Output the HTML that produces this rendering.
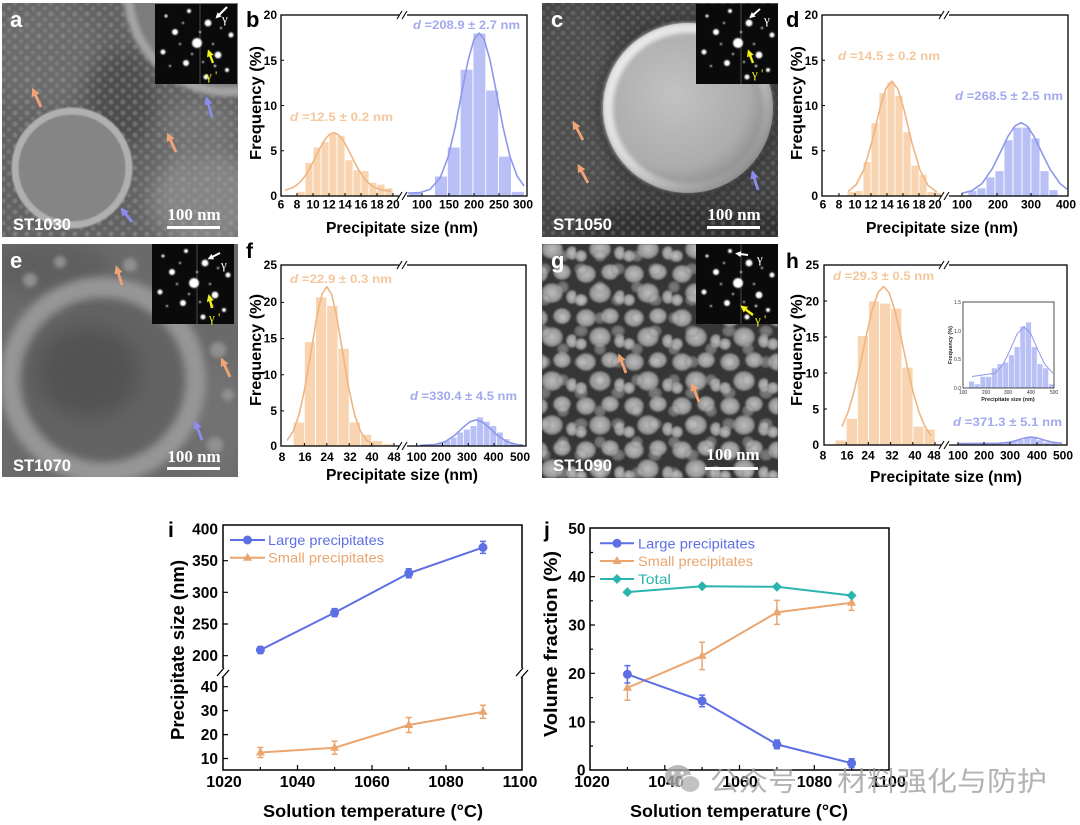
<!DOCTYPE html>
<html><head><meta charset="utf-8"><style>
html,body{margin:0;padding:0;background:#fff;}
svg{display:block;}
text{font-family:"Liberation Sans",Arial,sans-serif;}
.sf{font-family:"Liberation Serif","Times New Roman",serif;}
.cj{font-family:"Liberation Sans","Noto Sans CJK SC",sans-serif;}
</style></head><body>
<svg width="1080" height="825" viewBox="0 0 1080 825" xmlns="http://www.w3.org/2000/svg">
<defs>
<clipPath id="cA"><rect x="2" y="3" width="236" height="234"/></clipPath>
<clipPath id="cC"><rect x="542" y="3" width="236" height="234"/></clipPath>
<clipPath id="cE"><rect x="2" y="244" width="236" height="233"/></clipPath>
<clipPath id="cG"><rect x="542" y="244" width="236" height="234"/></clipPath>
<filter id="b1"><feGaussianBlur stdDeviation="0.8"/></filter>
<filter id="b2"><feGaussianBlur stdDeviation="2"/></filter>
<filter id="b4"><feGaussianBlur stdDeviation="4"/></filter>
<filter id="b10" x="-50%" y="-50%" width="200%" height="200%"><feGaussianBlur stdDeviation="10"/></filter>
<pattern id="dotA" width="12" height="11" patternUnits="userSpaceOnUse"><circle cx="3" cy="3" r="2.5" fill="#a8a8a8"/><circle cx="9" cy="8.5" r="2.1" fill="#9c9c9c"/></pattern>
<pattern id="dotC" width="10" height="10" patternUnits="userSpaceOnUse"><circle cx="3" cy="3" r="2.3" fill="#909090"/><circle cx="8" cy="8" r="1.9" fill="#858585"/></pattern>
<radialGradient id="blobG"><stop offset="0" stop-color="#d4d4d4"/><stop offset="0.75" stop-color="#acacac"/><stop offset="1" stop-color="#6e6e6e"/></radialGradient>
<pattern id="blobP1" width="48" height="44" patternUnits="userSpaceOnUse"><ellipse cx="10" cy="10" rx="10" ry="9" fill="url(#blobG)"/><ellipse cx="34" cy="8" rx="9" ry="8" fill="url(#blobG)"/><ellipse cx="24" cy="29" rx="11" ry="10" fill="url(#blobG)"/><ellipse cx="44" cy="33" rx="6" ry="7" fill="url(#blobG)"/><ellipse cx="5" cy="36" rx="6" ry="6" fill="url(#blobG)"/></pattern>
<pattern id="blobP2" width="37" height="31" patternUnits="userSpaceOnUse"><ellipse cx="8" cy="8" rx="6" ry="6" fill="url(#blobG)"/><ellipse cx="26" cy="21" rx="7" ry="6" fill="url(#blobG)"/></pattern>
<radialGradient id="discG" cx="0.42" cy="0.42" r="0.62"><stop offset="0" stop-color="#c2c2c2"/><stop offset="0.7" stop-color="#acacac"/><stop offset="1" stop-color="#848484"/></radialGradient>
<linearGradient id="rimG" x1="0" y1="0" x2="1" y2="1"><stop offset="0" stop-color="#f0f0f0"/><stop offset="0.5" stop-color="#e4e4e4" stop-opacity="0.8"/><stop offset="1" stop-color="#aaaaaa" stop-opacity="0"/></linearGradient>
<marker id="mo" markerWidth="3" markerHeight="3" refX="0.5" refY="1.5" orient="auto" markerUnits="strokeWidth"><path d="M0,0 L3,1.5 L0,3 z" fill="#f0a476"/></marker>
<marker id="mb" markerWidth="3" markerHeight="3" refX="0.5" refY="1.5" orient="auto" markerUnits="strokeWidth"><path d="M0,0 L3,1.5 L0,3 z" fill="#8a8cf0"/></marker>
<marker id="mw" markerWidth="3" markerHeight="3" refX="0.5" refY="1.5" orient="auto" markerUnits="strokeWidth"><path d="M0,0 L3,1.5 L0,3 z" fill="#ffffff"/></marker>
<marker id="my" markerWidth="3" markerHeight="3" refX="0.5" refY="1.5" orient="auto" markerUnits="strokeWidth"><path d="M0,0 L3,1.5 L0,3 z" fill="#f2f21c"/></marker>
<g id="spots">
<rect width="82" height="80" fill="#0a0a0a"/>
<line x1="45" y1="0" x2="45" y2="80" stroke="#666" stroke-width="0.7"/>
<g fill="#fff" filter="url(#b1)">
<circle cx="42" cy="39" r="5"/><circle cx="53" cy="19" r="3.4"/><circle cx="20" cy="28" r="3"/><circle cx="63" cy="51" r="3.4"/><circle cx="31" cy="59" r="3"/><circle cx="8" cy="48" r="2.5"/><circle cx="76" cy="31" r="2.5"/><circle cx="34" cy="7" r="2"/><circle cx="51" cy="73" r="2.5"/><circle cx="72" cy="66" r="2"/><circle cx="11" cy="12" r="1.5"/>
<circle cx="45" cy="28" r="1"/><circle cx="37" cy="50" r="1"/><circle cx="58" cy="40" r="1"/><circle cx="25" cy="40" r="1"/><circle cx="66" cy="24" r="1"/><circle cx="15" cy="62" r="1"/><circle cx="60" cy="62" r="1.2"/><circle cx="28" cy="19" r="1"/><circle cx="48" cy="58" r="1"/>
</g>
</g>
</defs>
<rect width="1080" height="825" fill="#fff"/>

<!-- ================= Micrograph a ================= -->
<g clip-path="url(#cA)">
<rect x="2" y="3" width="236" height="234" fill="#626262"/>
<g filter="url(#b10)">
<ellipse cx="45" cy="55" rx="55" ry="55" fill="#6c6c6c"/>
<ellipse cx="120" cy="100" rx="35" ry="50" fill="#4e4e4e"/>
<ellipse cx="205" cy="200" rx="55" ry="50" fill="#858585"/>
<ellipse cx="200" cy="130" rx="40" ry="30" fill="#727272"/>
</g>
<rect x="2" y="3" width="236" height="234" fill="url(#dotA)" opacity="0.4" filter="url(#b1)"/>
<circle cx="228" cy="-8" r="100" fill="#7c7c7c" stroke="#a4a4a4" stroke-width="9" filter="url(#b2)"/>
<circle cx="72" cy="168" r="57" fill="#858585" stroke="#b0b0b0" stroke-width="7" filter="url(#b1)"/>
</g>
<use href="#spots" x="155" y="4"/>
<line x1="227" y1="7" x2="219" y2="15" stroke="#fff" stroke-width="2" marker-end="url(#mw)"/>
<text x="222" y="23" class="sf" font-size="13" fill="#fff">γ</text>
<line x1="213" y1="63" x2="210" y2="55" stroke="#f2f21c" stroke-width="2.4" marker-end="url(#my)"/>
<text x="206" y="80" class="sf" font-size="13" fill="#f2f21c">γ '</text>
<line x1="41" y1="107" x2="35" y2="94" stroke="#f0a476" stroke-width="2.8" marker-end="url(#mo)"/>
<line x1="176" y1="152" x2="170" y2="139" stroke="#f0a476" stroke-width="2.8" marker-end="url(#mo)"/>
<line x1="212" y1="117" x2="208" y2="103" stroke="#8a8cf0" stroke-width="2.8" marker-end="url(#mb)"/>
<line x1="132" y1="222" x2="125" y2="213" stroke="#8a8cf0" stroke-width="2.8" marker-end="url(#mb)"/>
<text x="10" y="27" font-size="22" font-weight="bold" fill="#fff">a</text>
<text x="13" y="230" font-size="16.5" font-weight="bold" fill="#fff" textLength="58" lengthAdjust="spacingAndGlyphs">ST1030</text>
<text x="194" y="220" class="sf" font-size="17" font-weight="bold" fill="#fff" text-anchor="middle">100 nm</text>
<rect x="167" y="226" width="53" height="3" fill="#fff"/>

<!-- ================= Micrograph c ================= -->
<g clip-path="url(#cC)">
<rect x="542" y="3" width="236" height="234" fill="#424242"/>
<g filter="url(#b10)">
<ellipse cx="575" cy="110" rx="45" ry="110" fill="#4e4e4e"/>
<ellipse cx="690" cy="228" rx="120" ry="25" fill="#2e2e2e"/>
</g>
<rect x="542" y="3" width="236" height="234" fill="url(#dotC)" opacity="0.4" filter="url(#b1)"/>
<circle cx="688" cy="108" r="92" fill="#303030" opacity="0.6" filter="url(#b4)"/>
<circle cx="688" cy="108" r="85" fill="url(#discG)"/>
<circle cx="688" cy="108" r="80" fill="none" stroke="url(#rimG)" stroke-width="10" filter="url(#b2)"/>
</g>
<use href="#spots" x="696" y="4"/>
<line x1="760" y1="9" x2="753" y2="15" stroke="#fff" stroke-width="2" marker-end="url(#mw)"/>
<text x="764" y="24" class="sf" font-size="13" fill="#fff">γ</text>
<line x1="753" y1="63" x2="750" y2="55" stroke="#f2f21c" stroke-width="2.4" marker-end="url(#my)"/>
<text x="752" y="78" class="sf" font-size="13" fill="#f2f21c">γ '</text>
<line x1="583" y1="140" x2="576" y2="127" stroke="#f0a476" stroke-width="2.8" marker-end="url(#mo)"/>
<line x1="588" y1="183" x2="581" y2="170" stroke="#f0a476" stroke-width="2.8" marker-end="url(#mo)"/>
<line x1="758" y1="190" x2="754" y2="177" stroke="#8a8cf0" stroke-width="2.8" marker-end="url(#mb)"/>
<text x="551" y="27" font-size="22" font-weight="bold" fill="#fff">c</text>
<text x="553" y="230" font-size="16.5" font-weight="bold" fill="#fff" textLength="59" lengthAdjust="spacingAndGlyphs">ST1050</text>
<text x="734" y="220" class="sf" font-size="17" font-weight="bold" fill="#fff" text-anchor="middle">100 nm</text>
<rect x="707" y="226" width="53" height="3" fill="#fff"/>

<!-- ================= Micrograph e ================= -->
<g clip-path="url(#cE)">
<rect x="2" y="244" width="236" height="233" fill="#6a6a6a"/>
<g filter="url(#b10)">
<ellipse cx="50" cy="268" rx="60" ry="28" fill="#5e5e5e"/>
<ellipse cx="220" cy="420" rx="28" ry="60" fill="#727272"/>
</g>
<circle cx="103" cy="380" r="93" fill="#646464" stroke="#969696" stroke-width="20" filter="url(#b4)"/>
<ellipse cx="88" cy="372" rx="52" ry="46" fill="#525252" filter="url(#b10)"/>
<g fill="#909090" filter="url(#b2)">
<circle cx="130" cy="265" r="7"/><circle cx="218" cy="350" r="8"/><circle cx="215" cy="445" r="8"/><circle cx="30" cy="280" r="7"/><circle cx="60" cy="262" r="6"/><circle cx="228" cy="395" r="6"/>
</g>
</g>
<use href="#spots" x="152" y="244"/>
<line x1="220" y1="253" x2="212" y2="257" stroke="#fff" stroke-width="2" marker-end="url(#mw)"/>
<text x="221" y="269" class="sf" font-size="13" fill="#fff">γ</text>
<line x1="212" y1="308" x2="210" y2="300" stroke="#f2f21c" stroke-width="2.4" marker-end="url(#my)"/>
<text x="209" y="322" class="sf" font-size="13" fill="#f2f21c">γ '</text>
<line x1="122" y1="285" x2="118" y2="272" stroke="#f0a476" stroke-width="2.8" marker-end="url(#mo)"/>
<line x1="230" y1="377" x2="224" y2="364" stroke="#f0a476" stroke-width="2.8" marker-end="url(#mo)"/>
<line x1="202" y1="440" x2="197" y2="427" stroke="#8a8cf0" stroke-width="2.8" marker-end="url(#mb)"/>
<text x="10" y="268" font-size="22" font-weight="bold" fill="#fff">e</text>
<text x="13" y="471" font-size="16.5" font-weight="bold" fill="#fff" textLength="58" lengthAdjust="spacingAndGlyphs">ST1070</text>
<text x="194" y="462" class="sf" font-size="17" font-weight="bold" fill="#fff" text-anchor="middle">100 nm</text>
<rect x="167" y="467" width="53" height="3" fill="#fff"/>

<!-- ================= Micrograph g ================= -->
<g clip-path="url(#cG)">
<rect x="542" y="244" width="236" height="234" fill="#363636"/>
<rect x="542" y="244" width="236" height="234" fill="url(#blobP1)" opacity="0.85" filter="url(#b1)"/>
<rect x="542" y="244" width="236" height="234" fill="url(#blobP2)" opacity="0.45" filter="url(#b1)"/>
</g>
<use href="#spots" x="696" y="244"/>
<line x1="748" y1="255" x2="740" y2="254" stroke="#fff" stroke-width="2" marker-end="url(#mw)"/>
<text x="757" y="263" class="sf" font-size="13" fill="#fff">γ</text>
<line x1="753" y1="315" x2="745" y2="309" stroke="#f2f21c" stroke-width="2.4" marker-end="url(#my)"/>
<text x="755" y="324" class="sf" font-size="13" fill="#f2f21c">γ '</text>
<line x1="626" y1="373" x2="621" y2="360" stroke="#f0a476" stroke-width="2.8" marker-end="url(#mo)"/>
<line x1="699" y1="402" x2="694" y2="389" stroke="#f0a476" stroke-width="2.8" marker-end="url(#mo)"/>
<text x="551" y="268" font-size="22" font-weight="bold" fill="#fff">g</text>
<text x="553" y="471" font-size="16.5" font-weight="bold" fill="#fff" textLength="59" lengthAdjust="spacingAndGlyphs">ST1090</text>
<text x="733" y="460" class="sf" font-size="17" font-weight="bold" fill="#fff" text-anchor="middle">100 nm</text>
<rect x="705" y="467" width="53" height="3" fill="#fff"/>

<!-- ================= Histogram b ================= -->
<g fill="#f9d4b0" stroke="#fff" stroke-width="0.8">
<rect x="297" y="191.5" width="8" height="4.5"/><rect x="305" y="162.5" width="8" height="33.5"/><rect x="313" y="147.1" width="8" height="48.9"/><rect x="321" y="141.7" width="8" height="54.3"/><rect x="329" y="132.7" width="8" height="63.3"/><rect x="337" y="135.4" width="8" height="60.6"/><rect x="345" y="159.8" width="8" height="36.2"/><rect x="353" y="169.8" width="8" height="26.2"/><rect x="361" y="170.7" width="8" height="25.3"/><rect x="369" y="182.4" width="8" height="13.6"/><rect x="377" y="184.2" width="8" height="11.8"/><rect x="385" y="187.9" width="8" height="8.1"/>
</g>
<g fill="#b9c0f6" stroke="#fff" stroke-width="0.8">
<rect x="408.5" y="192.4" width="13" height="3.6"/><rect x="434.6" y="176.1" width="12.8" height="19.9"/><rect x="447.4" y="147.1" width="12.8" height="48.9"/><rect x="460.2" y="69.3" width="12.8" height="126.7"/><rect x="473" y="33.1" width="12.8" height="162.9"/><rect x="485.8" y="90.1" width="12.8" height="105.9"/><rect x="498.6" y="156.2" width="12.8" height="39.8"/><rect x="511.4" y="191.5" width="13" height="4.5"/>
</g>
<polyline fill="none" stroke="#f0b582" stroke-width="1.6" stroke-linejoin="round" points="285,190.2 293,187.5 297,184.8 301,181.1 305,176.1 309,169.7 313,162.2 317,154.2 321,146.3 325,139.5 329.8,134.2 333.8,132.6 337.8,134.2 342.6,139.5 346.6,146.3 350.6,154.2 354.6,162.2 358.6,169.7 362.6,176.1 366.6,181.1 370.6,184.8 374.6,187.5 382.6,190.2 391,191.2"/>
<polyline fill="none" stroke="#8e97ea" stroke-width="1.6" stroke-linejoin="round" points="408,193.2 420,192.6 430,189.4 440,178.2 448,157.3 455,127.9 462,91.3 468,60.9 474,39.3 479.1,33.1 484,38.9 490,59.9 496,90.3 503,126.9 510,156.6 517,175.8 524,186.1"/>
<rect x="281" y="15" width="246" height="181" fill="none" stroke="#000" stroke-width="1.3"/>
<g stroke="#000" stroke-width="1"><path d="M297,196v-3M313,196v-3M329,196v-3M345,196v-3M361,196v-3M377,196v-3M393,196v-3M422,196v-3M449,196v-3M474,196v-3M499,196v-3M281,150.7h3M281,105.5h3M281,60.2h3"/></g>
<rect x="399" y="11" width="8" height="8" fill="#fff"/><rect x="399" y="192" width="8" height="8" fill="#fff"/>
<path d="M397,19 L402,11 M402,19 L407,11 M397,200 L402,192 M402,200 L407,192" stroke="#000" stroke-width="1.1"/>
<g font-size="12" font-weight="bold" text-anchor="end"><text x="277" y="19">20</text><text x="277" y="65">15</text><text x="277" y="110">10</text><text x="277" y="155">5</text><text x="277" y="200">0</text></g>
<g font-size="12" font-weight="bold" text-anchor="middle"><text x="281" y="208.5">6</text><text x="297" y="208.5">8</text><text x="313" y="208.5">10</text><text x="329" y="208.5">12</text><text x="345" y="208.5">14</text><text x="361" y="208.5">16</text><text x="377" y="208.5">18</text><text x="393" y="208.5">20</text><text x="422" y="208.5">100</text><text x="449" y="208.5">150</text><text x="474" y="208.5">200</text><text x="499" y="208.5">250</text><text x="523" y="208.5">300</text></g>
<text x="402" y="233" font-size="15.5" font-weight="bold" text-anchor="middle" textLength="152" lengthAdjust="spacingAndGlyphs">Precipitate size (nm)</text>
<text transform="translate(261,103) rotate(-90)" font-size="16" font-weight="bold" text-anchor="middle" textLength="114" lengthAdjust="spacingAndGlyphs">Frequency (%)</text>
<text x="246" y="27" font-size="22" font-weight="bold">b</text>
<text x="290" y="121" font-size="12" font-weight="bold" fill="#f5c79c" textLength="103" lengthAdjust="spacingAndGlyphs"><tspan font-style="italic">d</tspan> =12.5 ± 0.2 nm</text>
<text x="413" y="29" font-size="12" font-weight="bold" fill="#a3a9ee" textLength="107" lengthAdjust="spacingAndGlyphs"><tspan font-style="italic">d</tspan> =208.9 ± 2.7 nm</text>

<!-- ================= Histogram d ================= -->
<g fill="#f9d4b0" stroke="#fff" stroke-width="0.8">
<rect x="847" y="191.5" width="8" height="4.5"/><rect x="855" y="190.6" width="8" height="5.4"/><rect x="863" y="161.6" width="8" height="34.4"/><rect x="871" y="122.7" width="8" height="73.3"/><rect x="879" y="92.8" width="8" height="103.2"/><rect x="887" y="82" width="8" height="114"/><rect x="895" y="95.5" width="8" height="100.5"/><rect x="903" y="131.7" width="8" height="64.3"/><rect x="911" y="165.2" width="8" height="30.8"/><rect x="919" y="174.3" width="8" height="21.7"/><rect x="927" y="191.5" width="8" height="4.5"/><rect x="935" y="192.4" width="7" height="3.6"/>
</g>
<g fill="#b9c0f6" stroke="#fff" stroke-width="0.8">
<rect x="968" y="190.6" width="9" height="5.4"/><rect x="977" y="187.9" width="9" height="8.1"/><rect x="986" y="177" width="9" height="19"/><rect x="995" y="170.7" width="9" height="25.3"/><rect x="1004" y="139.9" width="9" height="56.1"/><rect x="1013" y="127.2" width="9" height="68.8"/><rect x="1022" y="127.2" width="9" height="68.8"/><rect x="1031" y="138.1" width="9" height="57.9"/><rect x="1040" y="170.7" width="9" height="25.3"/><rect x="1049" y="189.7" width="9" height="6.3"/>
</g>
<polyline fill="none" stroke="#f0b582" stroke-width="1.6" stroke-linejoin="round" points="848,191.6 856,184.9 864,169.2 872,141.6 880,108 886,88.3 891.8,81.1 898,89.2 904,109.6 912,143.1 920,170.2 928,185.4 937,192.1"/>
<polyline fill="none" stroke="#8e97ea" stroke-width="1.6" stroke-linejoin="round" points="962,193.3 972,190.7 982,183.5 992,169.2 1000,153 1008,136.3 1015,125.9 1021,122.7 1027,125.9 1034,136.3 1042,153 1050,169.2 1060,183.5 1067,189.1"/>
<rect x="822" y="15" width="246" height="181" fill="none" stroke="#000" stroke-width="1.3"/>
<g stroke="#000" stroke-width="1"><path d="M839,196v-3M855,196v-3M871,196v-3M887,196v-3M903,196v-3M919,196v-3M935,196v-3M962,196v-3M997,196v-3M1031,196v-3M822,150.7h3M822,105.5h3M822,60.2h3"/></g>
<rect x="941" y="11" width="8" height="8" fill="#fff"/><rect x="941" y="192" width="8" height="8" fill="#fff"/>
<path d="M939,19 L944,11 M944,19 L949,11 M939,200 L944,192 M944,200 L949,192" stroke="#000" stroke-width="1.1"/>
<g font-size="12" font-weight="bold" text-anchor="end"><text x="818" y="19">20</text><text x="818" y="65">15</text><text x="818" y="110">10</text><text x="818" y="155">5</text><text x="818" y="200">0</text></g>
<g font-size="12" font-weight="bold" text-anchor="middle"><text x="823" y="208.5">6</text><text x="839" y="208.5">8</text><text x="855" y="208.5">10</text><text x="871" y="208.5">12</text><text x="887" y="208.5">14</text><text x="903" y="208.5">16</text><text x="919" y="208.5">18</text><text x="935" y="208.5">20</text><text x="962" y="208.5">100</text><text x="998" y="208.5">200</text><text x="1031" y="208.5">300</text><text x="1066" y="208.5">400</text></g>
<text x="942" y="233" font-size="15.5" font-weight="bold" text-anchor="middle" textLength="152" lengthAdjust="spacingAndGlyphs">Precipitate size (nm)</text>
<text transform="translate(802,103) rotate(-90)" font-size="16" font-weight="bold" text-anchor="middle" textLength="114" lengthAdjust="spacingAndGlyphs">Frequency (%)</text>
<text x="786" y="27" font-size="22" font-weight="bold">d</text>
<text x="838" y="60" font-size="12" font-weight="bold" fill="#f5c79c" textLength="102" lengthAdjust="spacingAndGlyphs"><tspan font-style="italic">d</tspan> =14.5 ± 0.2 nm</text>
<text x="955" y="100" font-size="12" font-weight="bold" fill="#a3a9ee" textLength="108" lengthAdjust="spacingAndGlyphs"><tspan font-style="italic">d</tspan> =268.5 ± 2.5 nm</text>

<!-- ================= Histogram f ================= -->
<g fill="#f9d4b0" stroke="#fff" stroke-width="0.8">
<rect x="293.2" y="422.1" width="11.2" height="23.9"/><rect x="304.4" y="341.7" width="11.2" height="104.3"/><rect x="315.6" y="296.9" width="11.2" height="149.1"/><rect x="326.8" y="305.5" width="11.2" height="140.5"/><rect x="338" y="348.3" width="11.2" height="97.7"/><rect x="349.2" y="422.1" width="11.2" height="23.9"/><rect x="360.4" y="434.4" width="11.2" height="11.6"/><rect x="371.6" y="440.6" width="11.2" height="5.4"/><rect x="382.8" y="443.8" width="11.2" height="2.2"/>
</g>
<g fill="#b9c0f6" stroke="#fff" stroke-width="0.6">
<rect x="424" y="444.6" width="6.6" height="1.4"/><rect x="430.6" y="443.8" width="6.6" height="2.2"/><rect x="437.2" y="442.4" width="6.6" height="3.6"/><rect x="443.8" y="440.2" width="6.6" height="5.8"/><rect x="450.4" y="437.3" width="6.6" height="8.7"/><rect x="457" y="432.2" width="6.6" height="13.8"/><rect x="463.6" y="429.3" width="6.6" height="16.7"/><rect x="470.2" y="425.7" width="6.6" height="20.3"/><rect x="476.8" y="417" width="6.6" height="29"/><rect x="483.4" y="421.4" width="6.6" height="24.6"/><rect x="490" y="425.7" width="6.6" height="20.3"/><rect x="496.6" y="432.2" width="6.6" height="13.8"/><rect x="503.2" y="438.8" width="6.6" height="7.2"/><rect x="509.8" y="443.1" width="6.6" height="2.9"/>
</g>
<polyline fill="none" stroke="#f0b582" stroke-width="1.6" stroke-linejoin="round" points="287,440.4 293,431.7 299,414.9 305,387.5 311,352 317,315.9 322,294.2 326.8,286.7 331.6,294.2 336.6,315.9 342.6,352 348.6,387.5 354.6,414.9 360.6,431.7 366.6,440.4 374,444.6"/>
<polyline fill="none" stroke="#8e97ea" stroke-width="1.6" stroke-linejoin="round" points="420,445.3 435,444.5 445,441.8 455,435.1 463,427.4 470,421.8 476,419.9 482,421.8 489,427.4 497,435.1 507,441.8 517,444.5 523,445"/>
<rect x="281" y="265" width="245" height="181" fill="none" stroke="#000" stroke-width="1.3"/>
<g stroke="#000" stroke-width="1"><path d="M304.4,446v-3M326.8,446v-3M349.2,446v-3M371.6,446v-3M394,446v-3M416.7,446v-3M442.5,446v-3M468.3,446v-3M494.1,446v-3M281,410.9h3M281,374.8h3M281,338.6h3M281,302.4h3"/></g>
<rect x="399" y="261" width="8" height="8" fill="#fff"/><rect x="399" y="442" width="8" height="8" fill="#fff"/>
<path d="M397,269 L402,261 M402,269 L407,261 M397,450 L402,442 M402,450 L407,442" stroke="#000" stroke-width="1.1"/>
<g font-size="12" font-weight="bold" text-anchor="end"><text x="277" y="269">25</text><text x="277" y="306">20</text><text x="277" y="342.6">15</text><text x="277" y="378.8">10</text><text x="277" y="415">5</text><text x="277" y="450">0</text></g>
<g font-size="12" font-weight="bold" text-anchor="middle"><text x="282" y="461">8</text><text x="305" y="461">16</text><text x="327" y="461">24</text><text x="350" y="461">32</text><text x="372" y="461">40</text><text x="394" y="461">48</text><text x="416.7" y="461">100</text><text x="441" y="461">200</text><text x="467" y="461">300</text><text x="493.5" y="461">400</text><text x="520" y="461">500</text></g>
<text x="402" y="480" font-size="15.5" font-weight="bold" text-anchor="middle" textLength="152" lengthAdjust="spacingAndGlyphs">Precipitate size (nm)</text>
<text transform="translate(261,350) rotate(-90)" font-size="16" font-weight="bold" text-anchor="middle" textLength="112" lengthAdjust="spacingAndGlyphs">Frequency (%)</text>
<text x="246" y="258" font-size="21" font-weight="bold">f</text>
<text x="290" y="283" font-size="12" font-weight="bold" fill="#f5c79c" textLength="102" lengthAdjust="spacingAndGlyphs"><tspan font-style="italic">d</tspan> =22.9 ± 0.3 nm</text>
<text x="410" y="400" font-size="12" font-weight="bold" fill="#a3a9ee" textLength="107" lengthAdjust="spacingAndGlyphs"><tspan font-style="italic">d</tspan> =330.4 ± 4.5 nm</text>

<!-- ================= Histogram h ================= -->
<g fill="#f9d4b0" stroke="#fff" stroke-width="0.8">
<rect x="835.1" y="440" width="11.1" height="5"/><rect x="846.2" y="418.4" width="11.2" height="26.6"/><rect x="857.4" y="335.6" width="11.1" height="109.4"/><rect x="868.5" y="301" width="11.1" height="144"/><rect x="879.6" y="303.2" width="11.1" height="141.8"/><rect x="890.7" y="308.2" width="11.1" height="136.8"/><rect x="901.8" y="367.2" width="11.2" height="77.8"/><rect x="913" y="426.3" width="11.1" height="18.7"/><rect x="924.1" y="429.2" width="11.1" height="15.8"/>
</g>
<g fill="#b9c0f6" stroke="#fff" stroke-width="0.5">
<rect x="964.6" y="444.1" width="6.6" height="0.9"/><rect x="971.2" y="444.5" width="6.6" height="0.5"/><rect x="977.8" y="443.6" width="6.6" height="1.4"/><rect x="984.4" y="443.6" width="6.6" height="1.4"/><rect x="991" y="442.5" width="6.6" height="2.5"/><rect x="997.6" y="442" width="6.6" height="3"/><rect x="1004.2" y="441.8" width="6.6" height="3.2"/><rect x="1010.8" y="440.8" width="6.6" height="4.2"/><rect x="1017.4" y="439.8" width="6.6" height="5.2"/><rect x="1024" y="437.2" width="6.6" height="7.8"/><rect x="1030.6" y="436.7" width="6.6" height="8.3"/><rect x="1037.2" y="439.8" width="6.6" height="5.2"/><rect x="1043.8" y="442" width="6.6" height="3"/><rect x="1050.4" y="442.5" width="6.6" height="2.5"/><rect x="1057" y="444.5" width="6.6" height="0.5"/>
</g>
<polyline fill="none" stroke="#f0b582" stroke-width="1.6" stroke-linejoin="round" points="842,426.6 848,412.2 854,391.6 860,365.6 866,337 872,310.7 878,292.5 883.5,286.6 889,292.5 895,310.7 901,337 907,365.6 913,391.6 919,412.2 925,426.6 931,435.6"/>
<polyline fill="none" stroke="#8e97ea" stroke-width="1.6" stroke-linejoin="round" points="958,443.6 1000,443.3 1010,442.2 1018,440 1025,437.9 1031,437.1 1037,437.9 1044,440 1052,442.2 1062,443.3"/>
<rect x="824" y="265" width="243" height="180" fill="none" stroke="#000" stroke-width="1.3"/>
<g stroke="#000" stroke-width="1"><path d="M846.2,445v-3M868.4,445v-3M890.6,445v-3M912.8,445v-3M935,445v-3M958,445v-3M984,445v-3M1010,445v-3M1037,445v-3M824,409h3M824,373h3M824,337h3M824,301h3"/></g>
<rect x="941" y="261" width="8" height="8" fill="#fff"/><rect x="941" y="441" width="8" height="8" fill="#fff"/>
<path d="M939,269 L944,261 M944,269 L949,261 M939,449 L944,441 M944,449 L949,441" stroke="#000" stroke-width="1.1"/>
<g font-size="12" font-weight="bold" text-anchor="end"><text x="819" y="269">25</text><text x="819" y="305.5">20</text><text x="819" y="341.5">15</text><text x="819" y="377.5">10</text><text x="819" y="413.5">5</text><text x="819" y="449">0</text></g>
<g font-size="12" font-weight="bold" text-anchor="middle"><text x="823" y="459.5">8</text><text x="847" y="459.5">16</text><text x="868" y="459.5">24</text><text x="892" y="459.5">32</text><text x="915" y="459.5">40</text><text x="934" y="459.5">48</text><text x="958" y="459.5">100</text><text x="984" y="459.5">200</text><text x="1010" y="459.5">300</text><text x="1037" y="459.5">400</text><text x="1063" y="459.5">500</text></g>
<text x="946" y="482" font-size="15.5" font-weight="bold" text-anchor="middle" textLength="152" lengthAdjust="spacingAndGlyphs">Precipitate size (nm)</text>
<text transform="translate(802,350) rotate(-90)" font-size="16" font-weight="bold" text-anchor="middle" textLength="112" lengthAdjust="spacingAndGlyphs">Frequency (%)</text>
<text x="786" y="268" font-size="21" font-weight="bold">h</text>
<text x="833" y="280" font-size="12" font-weight="bold" fill="#f5c79c" textLength="101" lengthAdjust="spacingAndGlyphs"><tspan font-style="italic">d</tspan> =29.3 ± 0.5 nm</text>
<text x="953" y="426" font-size="12" font-weight="bold" fill="#a3a9ee" textLength="109" lengthAdjust="spacingAndGlyphs"><tspan font-style="italic">d</tspan> =371.3 ± 5.1 nm</text>
<!-- inset h -->
<g fill="#b9c0f6" stroke="#fff" stroke-width="0.5">
<rect x="968.7" y="381.1" width="5.7" height="6.9"/><rect x="974.4" y="384" width="5.7" height="4"/><rect x="980.1" y="376.5" width="5.7" height="11.5"/><rect x="985.8" y="376.5" width="5.7" height="11.5"/><rect x="991.5" y="368" width="5.7" height="20"/><rect x="997.2" y="363.9" width="5.7" height="24.1"/><rect x="1002.9" y="362.2" width="5.7" height="25.8"/><rect x="1008.6" y="354.8" width="5.7" height="33.2"/><rect x="1014.3" y="346.7" width="5.7" height="41.3"/><rect x="1020" y="326.1" width="5.7" height="61.9"/><rect x="1025.7" y="322.1" width="5.7" height="65.9"/><rect x="1031.4" y="346.7" width="5.7" height="41.3"/><rect x="1037.1" y="363.9" width="5.7" height="24.1"/><rect x="1042.8" y="368" width="5.7" height="20"/><rect x="1048.5" y="384" width="5.5" height="4"/>
</g>
<polyline fill="none" stroke="#8e97ea" stroke-width="1" points="972,376.5 995,373.3 1003,364.6 1010,350.2 1017,334 1024,326.7 1031,334 1038,350.2 1045,364.6 1053,373.3"/>
<rect x="963" y="302" width="91" height="86" fill="none" stroke="#222" stroke-width="0.8"/>
<g font-size="5" text-anchor="end" fill="#333"><text x="961" y="304">1.5</text><text x="961" y="333">1.0</text><text x="961" y="361">0.5</text><text x="961" y="390">0.0</text></g>
<g font-size="5" text-anchor="middle" fill="#333"><text x="963" y="394">100</text><text x="986" y="394">200</text><text x="1008" y="394">300</text><text x="1031" y="394">400</text><text x="1054" y="394">500</text></g>
<text x="1008" y="401" font-size="5.5" font-weight="bold" text-anchor="middle" fill="#222">Precipitate size (nm)</text>
<text transform="translate(952,345) rotate(-90)" font-size="5.5" font-weight="bold" text-anchor="middle" fill="#222">Frequency (%)</text>

<!-- ================= Panel i ================= -->
<rect x="223" y="525" width="299" height="245" fill="none" stroke="#000" stroke-width="1.5"/>
<g stroke="#000" stroke-width="1.2"><path d="M297.5,770v-5M372,770v-5M446,770v-5M260.4,770v-3M334.6,770v-3M408.8,770v-3M483,770v-3M223,560.7h5M223,592.3h5M223,624h5M223,655.7h5M223,686.7h5M223,710.6h5M223,734.6h5M223,758.5h5"/></g>
<rect x="218" y="668" width="10" height="9" fill="#fff"/><rect x="517" y="668" width="10" height="9" fill="#fff"/>
<path d="M217,676 L224,668 M222,678 L229,670 M516,676 L523,668 M521,678 L528,670" stroke="#000" stroke-width="1.3"/>
<g font-size="15.5" font-weight="bold" text-anchor="end"><text x="218" y="534.5">400</text><text x="218" y="566.2">350</text><text x="218" y="597.8">300</text><text x="218" y="629.5">250</text><text x="218" y="661.2">200</text><text x="218" y="692.2">40</text><text x="218" y="716.1">30</text><text x="218" y="740.1">20</text><text x="218" y="764">10</text></g>
<g font-size="16" font-weight="bold" text-anchor="middle"><text x="224" y="787">1020</text><text x="297.5" y="787">1040</text><text x="372" y="787">1060</text><text x="446" y="787">1080</text><text x="520" y="787">1100</text></g>
<text x="373" y="817" font-size="17.5" font-weight="bold" text-anchor="middle" textLength="220" lengthAdjust="spacingAndGlyphs">Solution temperature (°C)</text>
<text transform="translate(184,650) rotate(-90)" font-size="18" font-weight="bold" text-anchor="middle" textLength="180" lengthAdjust="spacingAndGlyphs">Precipitate size (nm)</text>
<text x="168" y="537" font-size="21" font-weight="bold">i</text>
<!-- i series -->
<polyline fill="none" stroke="#5d6fe4" stroke-width="2" points="260.4,650 334.6,612.6 408.8,573.3 483,547.4"/>
<g stroke="#5d6fe4" stroke-width="1.5"><path d="M260.4,646.5v7M257.4,646.5h6M257.4,653.5h6M334.6,608.6v8M331.6,608.6h6M331.6,616.6h6M408.8,568.8v9M405.8,568.8h6M405.8,577.8h6M483,541.4v12M480,541.4h6M480,553.4h6"/></g>
<g fill="#5d6fe4"><circle cx="260.4" cy="650" r="4.5"/><circle cx="334.6" cy="612.6" r="4.5"/><circle cx="408.8" cy="573.3" r="4.5"/><circle cx="483" cy="547.4" r="4.5"/></g>
<polyline fill="none" stroke="#eba56e" stroke-width="2" points="260.4,752.5 334.6,747.7 408.8,725 483,711.8"/>
<g stroke="#eba56e" stroke-width="1.5"><path d="M260.4,747.5v10M257.4,747.5h6M257.4,757.5h6M334.6,741.2v13M331.6,741.2h6M331.6,754.2h6M408.8,717.5v15M405.8,717.5h6M405.8,732.5h6M483,705.3v13M480,705.3h6M480,718.3h6"/></g>
<g fill="#eba56e"><path d="M260.4,747.5 L255.9,755.5 L264.9,755.5Z M334.6,742.7 L330.1,750.7 L339.1,750.7Z M408.8,720 L404.3,728 L413.3,728Z M483,706.8 L478.5,714.8 L487.5,714.8Z"/></g>
<line x1="230" y1="540" x2="265" y2="540" stroke="#5d6fe4" stroke-width="2"/><circle cx="247.5" cy="540" r="4.5" fill="#5d6fe4"/>
<text x="268" y="545" font-size="14" fill="#5d6fe4" textLength="116" lengthAdjust="spacingAndGlyphs">Large precipitates</text>
<line x1="230" y1="557.7" x2="265" y2="557.7" stroke="#eba56e" stroke-width="2"/><path d="M247.5,552.7 L243,560.7 L252,560.7Z" fill="#eba56e"/>
<text x="268" y="562.7" font-size="14" fill="#eba56e" textLength="116" lengthAdjust="spacingAndGlyphs">Small precipitates</text>

<!-- ================= Panel j ================= -->
<rect x="590" y="528" width="299" height="242" fill="none" stroke="#000" stroke-width="1.5"/>
<g stroke="#000" stroke-width="1.2"><path d="M664.8,770v-5M739.5,770v-5M814.3,770v-5M627.4,770v-3M702.1,770v-3M776.9,770v-3M851.6,770v-3M590,576.7h5M590,625h5M590,673.3h5M590,722h5M590,600.8h3M590,649.2h3M590,697.7h3M590,746h3M590,552.5h3"/></g>
<g font-size="15.5" font-weight="bold" text-anchor="end"><text x="585.5" y="533.8">50</text><text x="585.5" y="582.2">40</text><text x="585.5" y="630.5">30</text><text x="585.5" y="678.8">20</text><text x="585.5" y="727.5">10</text><text x="585.5" y="775.5">0</text></g>
<g font-size="16" font-weight="bold" text-anchor="middle"><text x="592" y="787">1020</text><text x="666" y="787">1040</text><text x="740" y="787">1060</text><text x="814.5" y="787">1080</text><text x="888.5" y="787">1100</text></g>
<text x="739" y="817" font-size="17.5" font-weight="bold" text-anchor="middle" textLength="218" lengthAdjust="spacingAndGlyphs">Solution temperature (°C)</text>
<text transform="translate(557,644) rotate(-90)" font-size="18" font-weight="bold" text-anchor="middle" textLength="186" lengthAdjust="spacingAndGlyphs">Volume fraction (%)</text>
<text x="544" y="537" font-size="21" font-weight="bold">j</text>
<!-- j series -->
<polyline fill="none" stroke="#eba56e" stroke-width="2" points="627.4,687.8 702.1,655.9 776.9,612.4 851.6,602.7"/>
<g stroke="#eba56e" stroke-width="1.5"><path d="M627.4,675.3v25M624.4,675.3h6M624.4,700.3h6M702.1,642.2v27.4M699.1,642.2h6M699.1,669.6h6M776.9,600.4v24M773.9,600.4h6M773.9,624.4h6M851.6,595v15.4M848.6,595h6M848.6,610.4h6"/></g>
<g fill="#eba56e"><path d="M627.4,682.8 L622.9,690.8 L631.9,690.8Z M702.1,650.9 L697.6,658.9 L706.6,658.9Z M776.9,607.4 L772.4,615.4 L781.4,615.4Z M851.6,597.7 L847.1,605.7 L856.1,605.7Z"/></g>
<polyline fill="none" stroke="#5d6fe4" stroke-width="2" points="627.4,674.3 702.1,700.9 776.9,744.4 851.6,763.2"/>
<g stroke="#5d6fe4" stroke-width="1.5"><path d="M627.4,665.6v17.4M624.4,665.6h6M624.4,683h6M702.1,695.1v11.6M699.1,695.1h6M699.1,706.7h6M776.9,740v8.8M773.9,740h6M773.9,748.8h6M851.6,758.8v8.8M848.6,758.8h6M848.6,767.6h6"/></g>
<g fill="#5d6fe4"><circle cx="627.4" cy="674.3" r="4.5"/><circle cx="702.1" cy="700.9" r="4.5"/><circle cx="776.9" cy="744.4" r="4.5"/><circle cx="851.6" cy="763.2" r="4.5"/></g>
<polyline fill="none" stroke="#2bb4ae" stroke-width="2" points="627.4,592.1 702.1,586.3 776.9,586.8 851.6,595.5"/>
<g fill="#2bb4ae"><path d="M627.4,587.1 L632.4,592.1 L627.4,597.1 L622.4,592.1Z M702.1,581.3 L707.1,586.3 L702.1,591.3 L697.1,586.3Z M776.9,581.8 L781.9,586.8 L776.9,591.8 L771.9,586.8Z M851.6,590.5 L856.6,595.5 L851.6,600.5 L846.6,595.5Z"/></g>
<line x1="600" y1="543.3" x2="634" y2="543.3" stroke="#5d6fe4" stroke-width="2"/><circle cx="617" cy="543.3" r="4.5" fill="#5d6fe4"/>
<text x="638" y="548.3" font-size="14" fill="#5d6fe4" textLength="117" lengthAdjust="spacingAndGlyphs">Large precipitates</text>
<line x1="600" y1="561" x2="634" y2="561" stroke="#eba56e" stroke-width="2"/><path d="M617,556 L612.5,564 L621.5,564Z" fill="#eba56e"/>
<text x="638" y="566" font-size="14" fill="#eba56e" textLength="115" lengthAdjust="spacingAndGlyphs">Small precipitates</text>
<line x1="600" y1="579" x2="634" y2="579" stroke="#2bb4ae" stroke-width="2"/><path d="M617,574 L622,579 L617,584 L612,579Z" fill="#2bb4ae"/>
<text x="638" y="584" font-size="14" fill="#2bb4ae" textLength="33" lengthAdjust="spacingAndGlyphs">Total</text>

<!-- ================= Watermark ================= -->
<g opacity="0.8">
<ellipse cx="678" cy="776" rx="13" ry="11" fill="#a8a8a8"/>
<ellipse cx="690" cy="784" rx="10" ry="8.5" fill="#b4b4b4" stroke="#fff" stroke-width="1.2"/>
<circle cx="673" cy="773" r="1.6" fill="#fff"/><circle cx="682" cy="773" r="1.6" fill="#fff"/>
<text x="710" y="791" class="cj" font-size="27" fill="#a0a0a0" textLength="87" lengthAdjust="spacingAndGlyphs">公众号</text>
<text x="837" y="791" class="cj" font-size="27" fill="#a0a0a0" textLength="210" lengthAdjust="spacingAndGlyphs">材料强化与防护</text>
</g>
</svg>
</body></html>
